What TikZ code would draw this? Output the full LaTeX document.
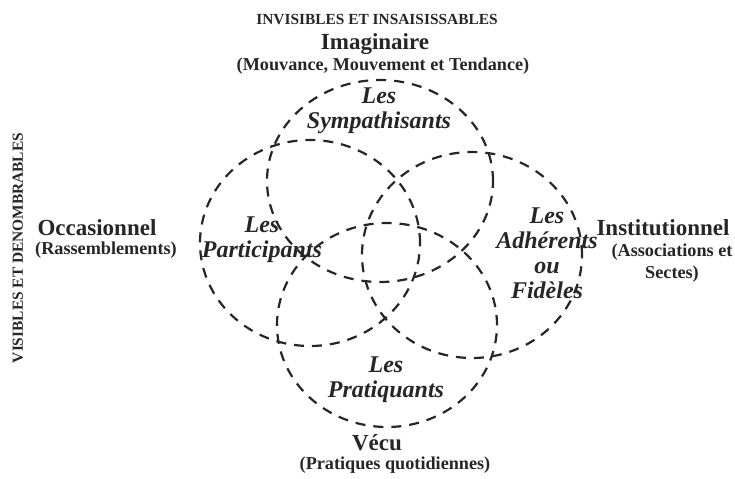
\documentclass[tikz,border=0pt]{standalone}
\usepackage{fontspec}
\setmainfont{Liberation Serif}
\usetikzlibrary{shapes.geometric}
\tikzset{
  zone/.style={ellipse, draw=black!85, line width=1.1pt, dash pattern=on 5pt off 4pt, inner sep=0pt},
  zlabel/.style={font=\fontsize{12}{12.5}\selectfont\bfseries\itshape, align=center, inner sep=0pt, text=black!85},
  pole/.style={font=\fontsize{11.5}{13}\selectfont\bfseries, inner sep=0pt, text=black!85},
  polesub/.style={font=\fontsize{9.1}{11}\selectfont\bfseries, inner sep=0pt, align=center, text=black!85},
  axis/.style={font=\fontsize{7.7}{9}\selectfont\bfseries, inner sep=0pt, text=black!85}
}
\begin{document}
\begin{tikzpicture}[x=0.5pt,y=-0.5pt]
\useasboundingbox (0,0) rectangle (735,478);
% ellipses
\node[zone, minimum width=113pt, minimum height=101pt] (symp) at (380,181) {};
\node[zone, minimum width=110pt, minimum height=103pt] (part) at (310,243) {};
\node[zone, minimum width=110pt, minimum height=103pt] (adh) at (472,255) {};
\node[zone, minimum width=110pt, minimum height=102pt] (prat) at (387,325) {};
% ellipse labels
\node[zlabel] (lsymp) at (379,111) {Les\\Sympathisants};
\node[zlabel] (lpart) at (262,240) {Les\\Participants};
\node[zlabel] (ladh) at (547,253) {Les\\Adhérents\\ou\\Fidèles};
\node[zlabel] (lprat) at (386,380) {Les\\Pratiquants};
% poles
\node[axis] (inv) at (377,20) {INVISIBLES ET INSAISISSABLES};
\node[pole] (imag) at (375,44) {Imaginaire};
\node[polesub] (imagsub) at (383,66) {(Mouvance, Mouvement et Tendance)};
\node[axis, rotate=90] (vis) at (18,248) {VISIBLES ET DENOMBRABLES};
\node[pole] (occ) at (97,228) {Occasionnel};
\node[polesub] (occsub) at (106,250) {(Rassemblements)};
\node[pole] (inst) at (663,228) {Institutionnel};
\node[polesub, anchor=north] (instsub) at (672,243) {(Associations et\\Sectes)};
\node[pole] (vecu) at (377,443) {Vécu};
\node[polesub] (vecusub) at (395,465) {(Pratiques quotidiennes)};
\end{tikzpicture}
\end{document}
